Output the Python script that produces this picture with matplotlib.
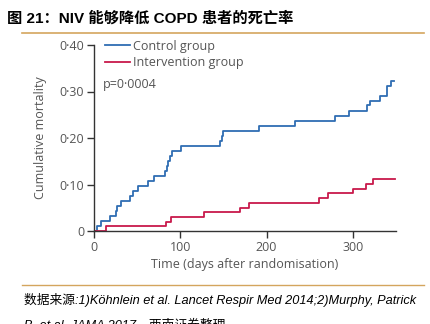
import matplotlib
matplotlib.use("Agg")
import matplotlib.pyplot as plt

# Colors
blue = "#2f6db3"
red = "#c8194b"
gold = "#d4a55e"
grey_text = "#555555"

# Kaplan-Meier step data
control_days = [0, 3, 8, 18, 25, 27, 31, 42, 45, 51, 63, 69, 82, 85, 86, 88, 90, 101,
                146, 148, 149, 191, 233, 279, 296, 316, 320, 332, 339, 340, 344, 348]
control_mort = [0, 0.011, 0.021, 0.032, 0.043, 0.053, 0.064, 0.075, 0.086, 0.097, 0.108,
                0.118, 0.129, 0.140, 0.151, 0.162, 0.172, 0.183,
                0.194, 0.205, 0.216, 0.226, 0.237, 0.248, 0.259, 0.270, 0.280, 0.291,
                0.302, 0.312, 0.323, 0.323]
interv_days = [0, 14, 83, 89, 128, 169, 180, 261, 271, 300, 315, 323, 349]
interv_mort = [0, 0.0098, 0.020, 0.030, 0.040, 0.050, 0.061, 0.071, 0.081, 0.091,
               0.101, 0.112, 0.112]

y_ticks = [0, 0.10, 0.20, 0.30, 0.40]
y_labels = ["0", "0\u00b710", "0\u00b720", "0\u00b730", "0\u00b740"]
x_ticks = [0, 100, 200, 300]

title = "图 21：NIV 能够降低 COPD 患者的死亡率"
source1 = "数据来源:1)Köhnlein et al. Lancet Respir Med 2014;2)Murphy, Patrick"
source2 = "B, et al. JAMA 2017，西南证券整理"

fig = plt.figure(figsize=(4.31, 3.24), dpi=100)
ax = fig.add_axes([94 / 431, 1 - 231 / 324, 302 / 431, 186 / 324])

ax.step(control_days, control_mort, where="post", color=blue, linewidth=1.3,
        label="Control group")
ax.step(interv_days, interv_mort, where="post", color=red, linewidth=1.3,
        label="Intervention group")

ax.set_xlim(0, 350)
ax.set_ylim(0, 0.40)
ax.spines["top"].set_visible(False)
ax.spines["right"].set_visible(False)
for s in ("left", "bottom"):
    ax.spines[s].set_color("#333333")
    ax.spines[s].set_linewidth(1.0)

cfont = "Open Sans"
fs = 9
ax.set_yticks(y_ticks)
ax.set_yticklabels(y_labels, family=cfont, fontsize=fs, color=grey_text)
ax.set_xticks(x_ticks)
ax.set_xticklabels([str(v) for v in x_ticks], family=cfont, fontsize=fs, color=grey_text)
ax.tick_params(axis="both", direction="out", length=5, width=1.0, color="#333333", pad=2)

ax.set_ylabel("Cumulative mortality", family=cfont, fontsize=fs, color=grey_text, labelpad=9)
ax.set_xlabel("Time (days after randomisation)", family=cfont, fontsize=fs,
              color=grey_text, labelpad=3)

leg = ax.legend(loc="upper left", bbox_to_anchor=(0.02, 1.055), frameon=False,
                prop={"family": cfont, "size": fs}, handlelength=2.0,
                handletextpad=0.25, labelspacing=0.25, borderaxespad=0)
for t in leg.get_texts():
    t.set_color(grey_text)
ax.text(0.03, 0.79, "p=0\u00b70004", transform=ax.transAxes, family=cfont,
        fontsize=fs, color=grey_text, va="center")

# Title and source text
fig.text(7 / 431, 1 - 18 / 324, title, family=["Liberation Sans", "Noto Sans CJK SC"],
         fontsize=11, fontweight="bold", va="center", ha="left")
fig.add_artist(plt.Line2D([22 / 431, 424 / 431], [1 - 33 / 324, 1 - 33 / 324],
                          color=gold, linewidth=1.2))
fig.add_artist(plt.Line2D([22 / 431, 424 / 431], [1 - 285 / 324, 1 - 285 / 324],
                          color=gold, linewidth=1.0))
fig.text(24 / 431, 1 - 300 / 324, source1, family=["Liberation Sans", "Noto Sans CJK SC"],
         fontsize=9.2, style="italic", va="center", ha="left")
fig.text(24 / 431, 1 - 325 / 324, source2, family=["Liberation Sans", "Noto Sans CJK SC"],
         fontsize=9.2, style="italic", va="center", ha="left")

fig.savefig("out.png", dpi=100)
